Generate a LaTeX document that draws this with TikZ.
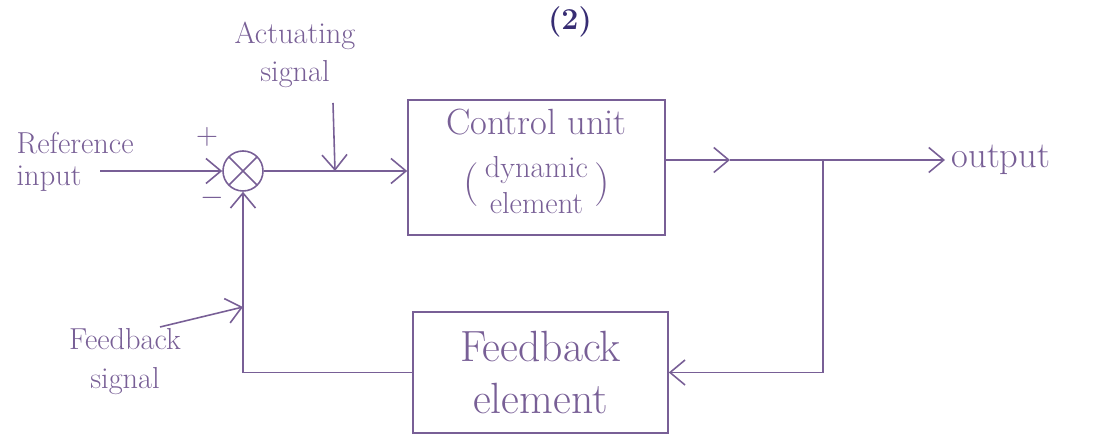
\documentclass[tikz,border=0pt]{standalone}
\usetikzlibrary{arrows.meta}
\definecolor{ink}{RGB}{120,95,150}
\definecolor{pen}{RGB}{55,45,115}

\begin{document}
\begin{tikzpicture}[color=ink, line width=0.9pt, >={Straight Barb[length=3mm,width=5mm]},
    block/.style={draw, align=center, minimum width=5.14cm, minimum height=2.7cm},
    sum/.style={draw, circle, minimum size=0.8cm, path picture={\draw (path picture bounding box.north west) -- (path picture bounding box.south east) (path picture bounding box.south west) -- (path picture bounding box.north east);}}]
            \useasboundingbox (0,0) rectangle (22.04,8.78);
            \node[pen, font=\LARGE\bfseries, anchor=north] (num) at (11.4,8.78) {(2)};
            % blocks
            \node[sum] (sum) at (4.86,5.36) {};
            \node[block, font=\huge] (cu) at (10.73,5.43) {Control unit\\[6pt] {\Huge(}\begin{tabular}{@{\,}c@{\,}}\LARGE dynamic\\[-5pt] \LARGE element\end{tabular}{\Huge)}};
            \node[block, font=\Huge, minimum width=5.1cm, minimum height=2.42cm] (fb) at (10.81,1.33) {Feedback\\ element};
            % labels
            \node[font=\LARGE, align=left, anchor=west] (ref) at (0.2,5.55) {Reference\\[-4pt] input};
            \node[font=\LARGE] (plus) at (4.14,6.04) {$+$};
            \node[font=\LARGE] (minus) at (4.24,4.82) {$-$};
            \node[font=\LARGE, align=center] (act) at (5.9,7.68) {Actuating\\ signal};
            \node[font=\LARGE, align=center] (fbs) at (2.5,1.55) {Feedback\\ signal};
            \node[font=\huge, anchor=west] (out) at (18.9,5.58) {output};
            % connectors
            \coordinate (inp) at (2.0,5.36);
            \coordinate (mid) at (14.6,5.58);
            \coordinate (br) at (16.46,5.58);
            \coordinate (a1) at (6.66,6.72);
            \coordinate (a2) at (6.70,5.36);
            \coordinate (f1) at (3.2,2.24);
            \coordinate (f2) at (4.86,2.64);
            \draw[->] (inp) -- (sum.west);
            \draw[->] (sum.east) -- (sum -| cu.west);
            \draw[->] (cu.east |- mid) -- (mid);
            \draw (mid) -- (br);
            \draw[->] (br) -- (out.west);
            \draw[->] (br) |- (fb.east);
            \draw[->] (fb.west) -| (sum.south);
            \draw[->] (a1) -- (a2);
            \draw[->] (f1) -- (f2);
        \end{tikzpicture}
\end{document}
